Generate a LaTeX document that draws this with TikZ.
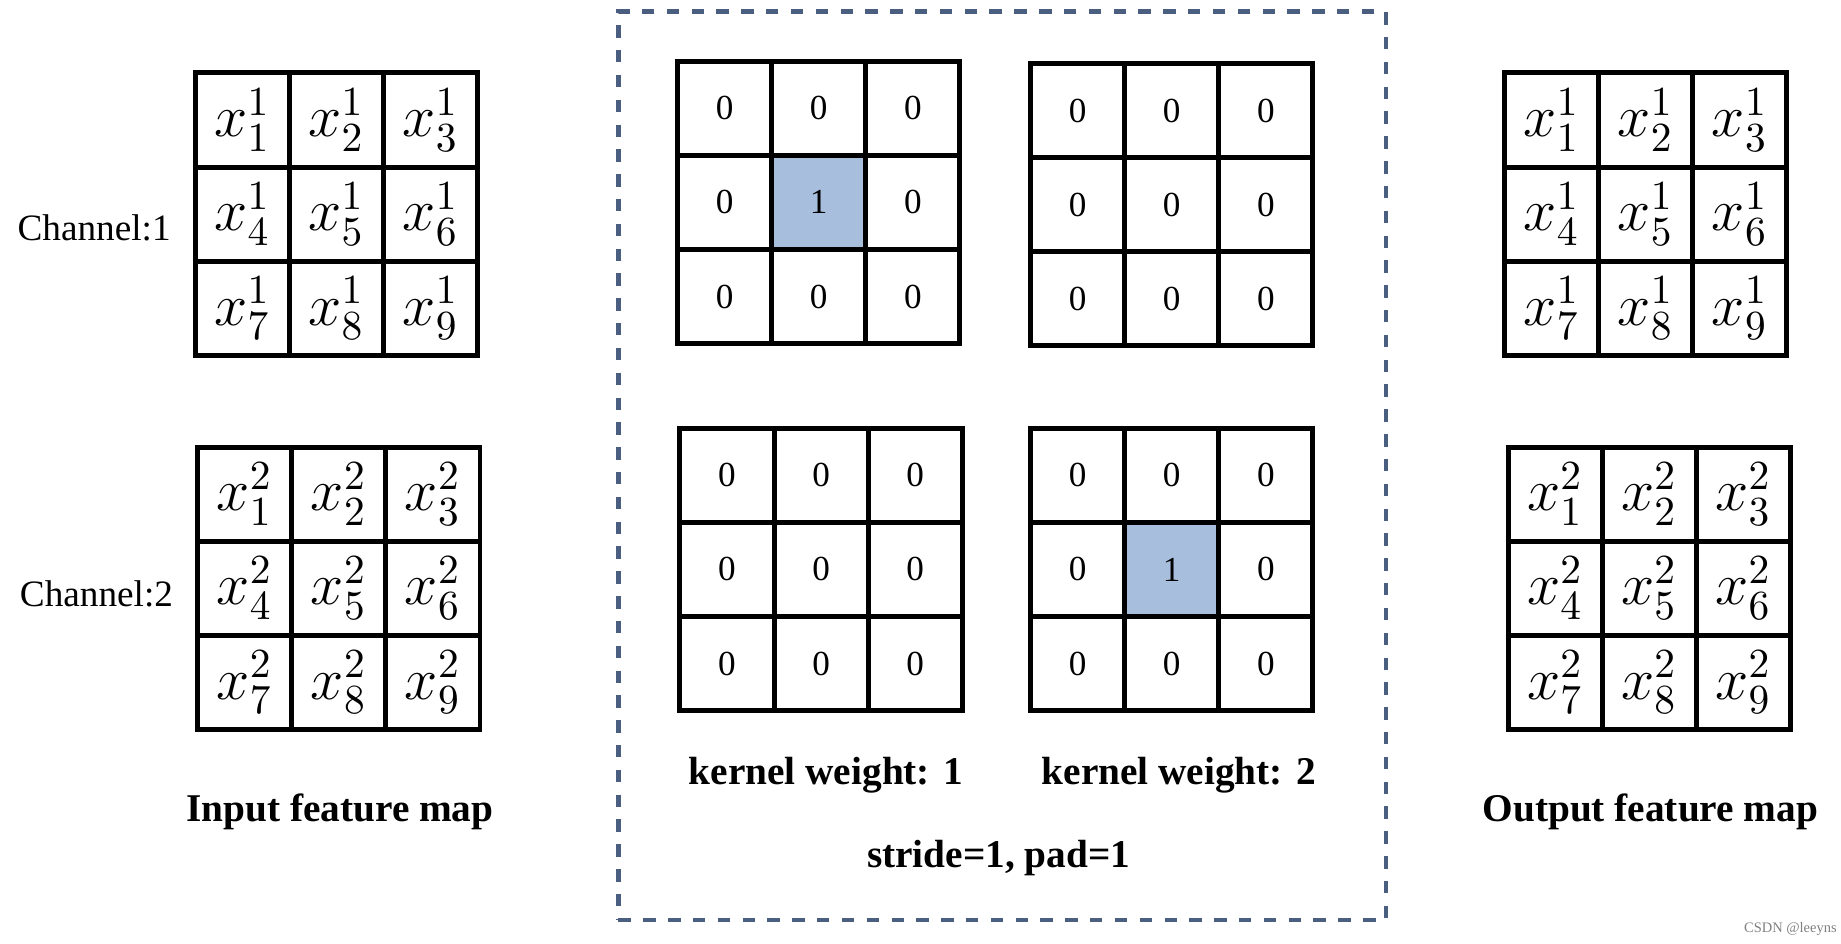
\documentclass[tikz,border=0pt]{standalone}
\usepackage{fontspec}
\setmainfont{Liberation Serif}
\definecolor{hlc}{HTML}{A7BFDD}
\definecolor{dash}{HTML}{4A5F80}
\begin{document}
\begin{tikzpicture}[x=0.01cm,y=-0.01cm,
  cell/.style={draw=black,line width=1.2pt,minimum width=0.8cm,minimum height=0.8cm,inner sep=0pt,outer sep=0pt,anchor=north west},
  zero/.style={font=\fontsize{8.5}{10}\selectfont},
  xv/.style={font=\fontsize{14}{16}\selectfont},
  lab/.style={font=\fontsize{9.5}{11}\selectfont\bfseries},
  hl/.style={fill=hlc}]
\useasboundingbox (0,0) rectangle (1565,802);
\foreach \gx/\gy/\c/\nm in {166/62/1/ia,168/380/2/ib,1279/62/1/oa,1282/380/2/ob}{
  \foreach \r in {0,1,2}{\foreach \k in {0,1,2}{
    \pgfmathtruncatemacro{\idx}{\r*3+\k+1}
    \node[cell,xv] (\nm\r\k) at (\gx+\k*80,\gy+\r*80) {$x_{\idx}^{\c}$};
  }}
}
\foreach \gx/\gy/\nm/\h in {576/52/ka/1,876/54/kb/0,578/364/kc/0,876/364/kd/1}{
  \foreach \r in {0,1,2}{\foreach \k in {0,1,2}{
    \node[cell,zero] (\nm\r\k) at (\gx+\k*80,\gy+\r*80) {0};
  }}
  \ifnum\h=1
    \node[cell,zero,hl] (\nm c) at (\gx+80,\gy+80) {1};
  \fi
}
\node[font=\fontsize{9}{11}\selectfont] (c1) at (80,194) {Channel:1};
\node[font=\fontsize{9}{11}\selectfont] (c2) at (82,505) {Channel:2};
\node[draw=dash,dashed,line width=1pt,minimum width=6.52cm,minimum height=7.72cm,anchor=north west] (box) at (524,8) {};
\node[lab] (kw1) at (702,659) {kernel weight: 1};
\node[lab] (kw2) at (1002,659) {kernel weight: 2};
\node[lab] (st) at (849,729) {stride=1, pad=1};
\node[lab] (ifm) at (289,690) {Input feature map};
\node[lab] (ofm) at (1403,690) {Output feature map};
\node[font=\fontsize{3.5}{4}\selectfont,text=gray] (cs) at (1522,790) {CSDN @leeyns};
\end{tikzpicture}
\end{document}
